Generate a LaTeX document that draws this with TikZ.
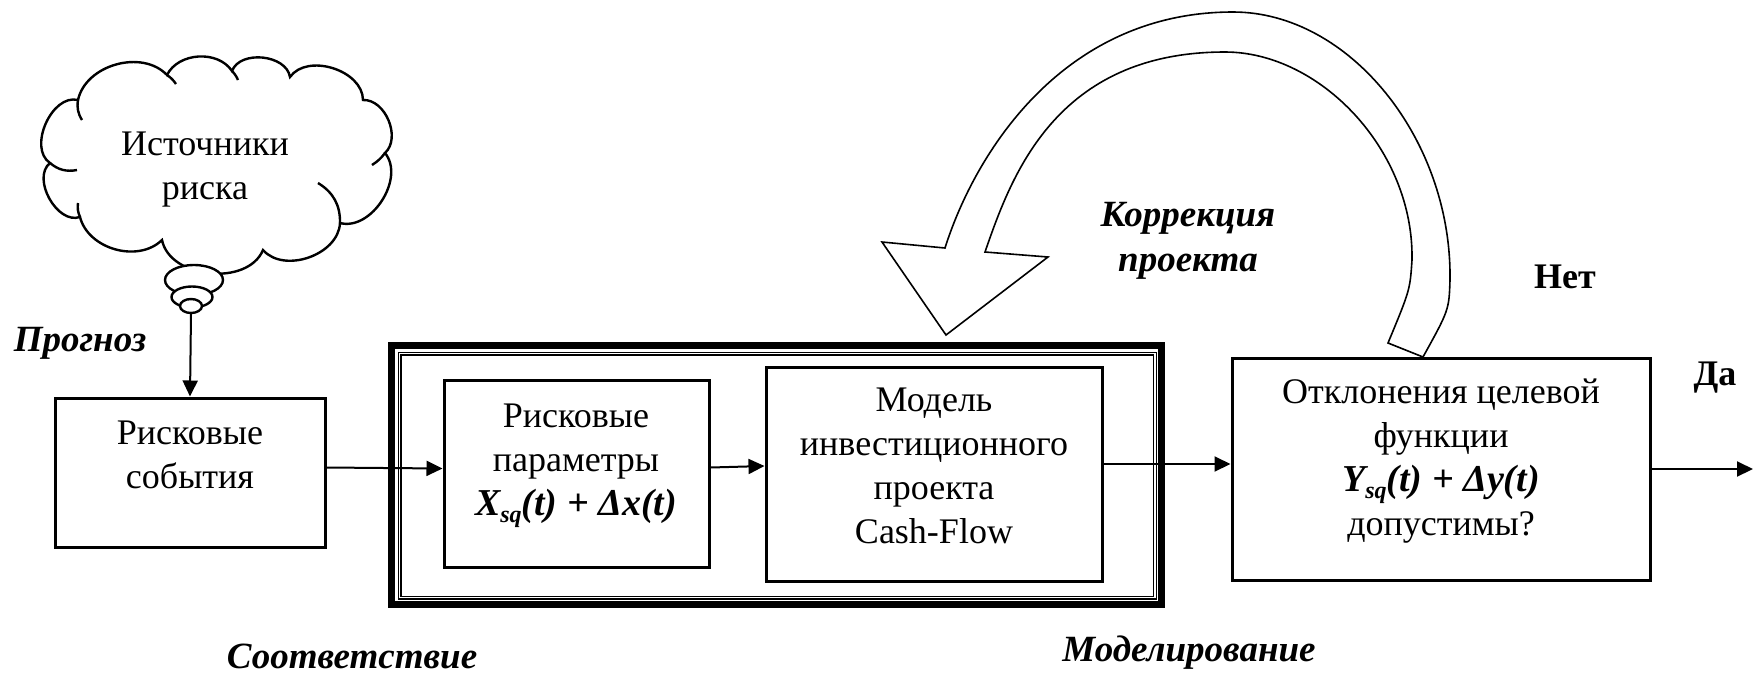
\documentclass[tikz,border=0pt]{standalone}
\usepackage{fontspec}
\setmainfont{Liberation Serif}
\usetikzlibrary{arrows.meta,shapes.geometric}
\newcommand{\fmlX}[2]{{\fontsize{19}{22}\selectfont\bfseries\itshape #1\raisebox{-0.4ex}{\fontsize{12}{12}\selectfont sq}(t) + Δ#2(t)}}
\begin{document}
\begin{tikzpicture}[x=0.5pt,y=-0.5pt,
  box/.style={draw, line width=1.5pt, inner sep=0pt, rectangle},
  txt/.style={align=center, font=\fontsize{18}{22}\selectfont, inner sep=0pt},
  lbl/.style={align=center, font=\fontsize{18.5}{22.5}\selectfont\bfseries\itshape, inner sep=0pt},
  yn/.style={font=\fontsize{18}{22}\selectfont\bfseries, inner sep=0pt},
  arr/.style={line width=1pt, -{Triangle[length=8pt,width=7.5pt]}},
  cloudline/.style={line width=1.2pt},
  bub/.style={ellipse, draw, line width=1.2pt, fill=white, inner sep=0pt},
  bigarrow/.style={draw, line width=0.8pt, fill=white, line join=miter},
]
\useasboundingbox (0,0) rectangle (1753,676);

% cloud
\draw[cloudline, fill=white] (78,100) to[bend left=62] (167,75) to[bend left=60] (232,71)
  to[bend left=75] (290,77) to[bend left=72] (363,100) to[bend left=70] (385,153)
  to[bend left=72] (340,223) to[bend left=68] (263,250) to[bend left=73] (162,240)
  to[bend left=60] (80,217) to[bend left=80] (50,163) to[bend left=80] (78,100) -- cycle;
\draw[cloudline] (50,163) to[bend right=25] (77,170);
\draw[cloudline] (78,100) to[bend right=20] (82,120);
\draw[cloudline] (167,75) to[bend left=10] (176,84);
\draw[cloudline] (232,71) to[bend left=10] (238,80);
\draw[cloudline] (385,153) to[bend left=10] (372,165);
\draw[cloudline] (340,223) to[bend right=30] (318,183);
\draw[cloudline] (80,217) to[bend left=15] (78,203);
\node[bub, minimum width=29pt, minimum height=15pt] (bub1) at (194,280) {};
\node[bub, minimum width=20.5pt, minimum height=10.5pt] (bub2) at (192,297) {};
\node[bub, minimum width=11pt, minimum height=7pt] (bub3) at (191,306) {};
\node[txt] (src) at (205,170) {Источники\\риска};

% curved correction arrow
\draw[bigarrow] (1388,343) .. controls (1410,290) .. (1412,260)
  .. controls (1414,150) and (1320,52) .. (1225,52)
  .. controls (1055,52) and (1011,177) .. (985,252)
  -- (1048,257) -- (946,335) -- (882,242) -- (945,248)
  .. controls (975,153) and (1063,12) .. (1233,12)
  .. controls (1350,12) and (1452,140) .. (1450,280)
  .. controls (1449,310) .. (1423,357) -- cycle;

% frame
\node[draw, line width=3.5pt, inner sep=0pt, minimum width=385pt, minimum height=129.5pt] (frame) at (776.5,474.5) {};
\node[draw, line width=0.6pt, double, double distance=0.8pt, inner sep=0pt, minimum width=377.75pt, minimum height=122pt] (frame2) at (777.25,475.5) {};

% boxes
\node[box, fill=white, minimum width=135pt, minimum height=74.5pt] (b1) at (190,472.5) {};
\node[box, fill=white, minimum width=132.5pt, minimum height=93.5pt] (b2) at (576.5,473.5) {};
\node[box, fill=white, minimum width=168pt, minimum height=107pt] (b3) at (934,474) {};
\node[box, fill=white, minimum width=209pt, minimum height=111pt] (b4) at (1441,469) {};

\node[txt] (t1) at (190,455) {Рисковые\\события};
\node[txt] (t2) at (576,466) {Рисковые\\параметры\\\fmlX{X}{x}};
\node[txt] (t3) at (934,466) {Модель\\инвестиционного\\проекта\\Cash-Flow};
\node[txt] (t4) at (1441,461) {Отклонения целевой\\функции\\\fmlX{Y}{y}\\допустимы?};

% connectors
\draw[arr] (bub3.south) -- (b1.north);
\draw[arr] ([yshift=2.5pt]b1.east) -- ([yshift=2.5pt]b2.west);
\draw[arr] ([yshift=3pt]b2.east) -- ([yshift=4pt]b3.west);
\draw[arr] ([yshift=5pt]b3.east) -- ([yshift=2.5pt]b4.west);
\coordinate (out) at (1753,469);
\draw[arr] (b4.east) -- (out);

% labels
\node[lbl] (prog) at (80,343) {Прогноз};
\node[lbl] (sootv) at (352,656) {Соответствие};
\node[lbl] (model) at (1189,653) {Моделирование};
\node[lbl] (korr) at (1188,241) {Коррекция\\проекта};
\node[yn] (net) at (1565,277) {Нет};
\node[yn] (da) at (1715,378) {Да};
\end{tikzpicture}
\end{document}
